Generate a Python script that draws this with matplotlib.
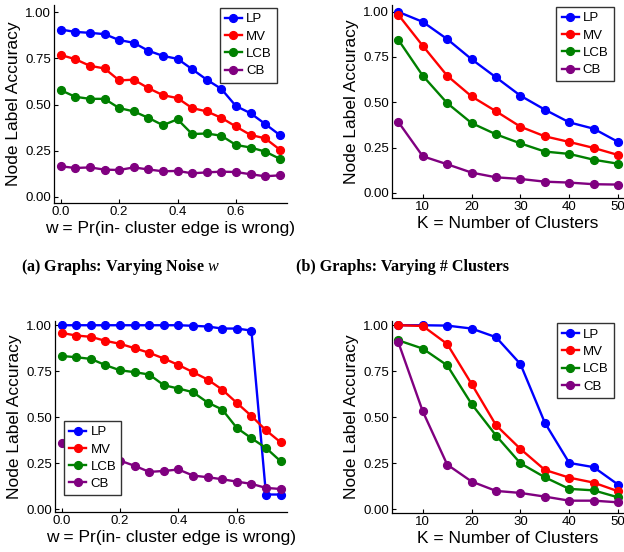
import matplotlib
matplotlib.use("Agg")
from matplotlib import pyplot as plt
from matplotlib.ticker import FormatStrFormatter

plt.rcParams['font.family'] = ['Liberation Sans', 'DejaVu Sans']
plt.rcParams['mathtext.fontset'] = 'custom'
plt.rcParams['mathtext.it'] = 'Liberation Serif:italic'
plt.rcParams['mathtext.rm'] = 'Liberation Serif:bold'

methods = ["LP", "MV", "LCB", "CB"]
colors = ["blue", "red", "green", "purple"]

# noise level w
w_vals = [0.0, 0.05, 0.1, 0.15, 0.2, 0.25, 0.3, 0.35, 0.4, 0.45, 0.5, 0.55, 0.6, 0.65, 0.7, 0.75]
# number of clusters K
k_vals = [5, 10, 15, 20, 25, 30, 35, 40, 45, 50]

# top left: varying noise
a_lp = [0.907, 0.894, 0.889, 0.882, 0.850, 0.835, 0.792, 0.764, 0.748, 0.692, 0.635, 0.585, 0.492, 0.453, 0.395, 0.335]
a_mv = [0.769, 0.746, 0.710, 0.696, 0.631, 0.635, 0.589, 0.551, 0.535, 0.481, 0.463, 0.428, 0.381, 0.335, 0.317, 0.256]
a_lcb = [0.578, 0.542, 0.531, 0.531, 0.481, 0.463, 0.428, 0.388, 0.420, 0.340, 0.343, 0.331, 0.281, 0.267, 0.245, 0.206]
a_cb = [0.165, 0.156, 0.159, 0.147, 0.145, 0.159, 0.148, 0.138, 0.140, 0.127, 0.132, 0.136, 0.134, 0.122, 0.111, 0.116]

# top right: varying clusters
b_lp = [0.998, 0.943, 0.848, 0.737, 0.637, 0.536, 0.459, 0.389, 0.354, 0.281]
b_mv = [0.982, 0.811, 0.646, 0.532, 0.450, 0.365, 0.312, 0.281, 0.248, 0.209]
b_lcb = [0.844, 0.646, 0.495, 0.385, 0.323, 0.273, 0.228, 0.215, 0.183, 0.161]
b_cb = [0.391, 0.202, 0.158, 0.112, 0.086, 0.077, 0.062, 0.057, 0.048, 0.046]

# bottom left: varying noise
c_lp = [1.0, 1.0, 1.0, 1.0, 1.0, 1.0, 1.0, 1.0, 1.0, 0.997, 0.993, 0.982, 0.982, 0.971, 0.08, 0.08]
c_mv = [0.958, 0.944, 0.937, 0.915, 0.899, 0.875, 0.850, 0.819, 0.784, 0.745, 0.705, 0.650, 0.578, 0.507, 0.429, 0.364]
c_lcb = [0.833, 0.826, 0.817, 0.783, 0.755, 0.745, 0.732, 0.674, 0.656, 0.636, 0.580, 0.542, 0.442, 0.386, 0.333, 0.261]
c_cb = [0.362, 0.330, 0.310, 0.285, 0.264, 0.236, 0.203, 0.208, 0.216, 0.183, 0.174, 0.163, 0.150, 0.138, 0.116, 0.110]

# bottom right: varying clusters
d_lp = [1.0, 1.0, 0.998, 0.982, 0.935, 0.789, 0.470, 0.252, 0.229, 0.134]
d_mv = [1.0, 0.996, 0.898, 0.681, 0.457, 0.328, 0.214, 0.172, 0.145, 0.098]
d_lcb = [0.918, 0.873, 0.782, 0.572, 0.401, 0.250, 0.174, 0.111, 0.103, 0.065]
d_cb = [0.907, 0.532, 0.243, 0.151, 0.100, 0.089, 0.069, 0.047, 0.047, 0.038]

W, H = 624, 552


def px_axes(fig, left, top, right, bottom):
    # axes from pixel box
    return fig.add_axes([left / W, (H - bottom) / H, (right - left) / W, (bottom - top) / H])


def draw_panel(ax, x, series, xlabel, xlim, ylim, xticks, xfmt, legend_loc, legend_anchor):
    for vals, name, col in zip(series, methods, colors):
        ax.plot(x, vals, color=col, lw=1.7, marker='o', ms=5.6, label=name)
    ax.set_xlim(*xlim)
    ax.set_ylim(*ylim)
    ax.set_xticks(xticks)
    ax.set_yticks([0.0, 0.25, 0.5, 0.75, 1.0])
    ax.xaxis.set_major_formatter(FormatStrFormatter(xfmt))
    ax.yaxis.set_major_formatter(FormatStrFormatter('%.2f'))
    ax.spines['top'].set_visible(False)
    ax.spines['right'].set_visible(False)
    for s in ['left', 'bottom']:
        ax.spines[s].set_linewidth(0.9)
    ax.tick_params(direction='in', length=3, width=0.8, labelsize=9.5, pad=2)
    ax.set_xlabel(xlabel, fontsize=12.5, labelpad=2)
    ax.set_ylabel("Node Label Accuracy", fontsize=12.5, labelpad=3)
    leg = ax.legend(loc=legend_loc, bbox_to_anchor=legend_anchor, fontsize=9.5,
                    fancybox=False, framealpha=1, edgecolor='#333333',
                    handlelength=1.3, handletextpad=0.3, borderpad=0.4,
                    labelspacing=0.38, borderaxespad=0)
    leg.get_frame().set_linewidth(1.0)


fig = plt.figure(figsize=(6.24, 5.52), dpi=100)

ax_a = px_axes(fig, 54, 5, 287, 203)
draw_panel(ax_a, w_vals, [a_lp, a_mv, a_lcb, a_cb], "w = Pr(in- cluster edge is wrong)",
           (-0.023, 0.775), (-0.034, 1.04), [0.0, 0.2, 0.4, 0.6], '%.1f',
           'upper right', (0.957, 0.985))

ax_b = px_axes(fig, 392, 5, 623, 198)
draw_panel(ax_b, k_vals, [b_lp, b_mv, b_lcb, b_cb], "K = Number of Clusters",
           (3.7, 51.0), (-0.028, 1.036), [10, 20, 30, 40, 50], '%d',
           'upper right', (0.96, 0.99))

ax_c = px_axes(fig, 55, 321, 287, 512)
draw_panel(ax_c, w_vals, [c_lp, c_mv, c_lcb, c_cb], "w = Pr(in- cluster edge is wrong)",
           (-0.023, 0.772), (-0.015, 1.023), [0.0, 0.2, 0.4, 0.6], '%.1f',
           'lower left', (0.039, 0.087))

ax_d = px_axes(fig, 392, 321, 623, 513)
draw_panel(ax_d, k_vals, [d_lp, d_mv, d_lcb, d_cb], "K = Number of Clusters",
           (3.7, 51.0), (-0.02, 1.023), [10, 20, 30, 40, 50], '%d',
           'upper right', (0.961, 0.988))

fig.text(120 / W, (H - 267) / H, r"(a) Graphs: Varying Noise $w$", ha='center', va='center',
         fontsize=11.6, family='Liberation Serif', weight='bold')
fig.text(402 / W, (H - 267) / H, "(b) Graphs: Varying # Clusters", ha='center', va='center',
         fontsize=11.6, family='Liberation Serif', weight='bold')

fig.savefig("out.png", dpi=100)
